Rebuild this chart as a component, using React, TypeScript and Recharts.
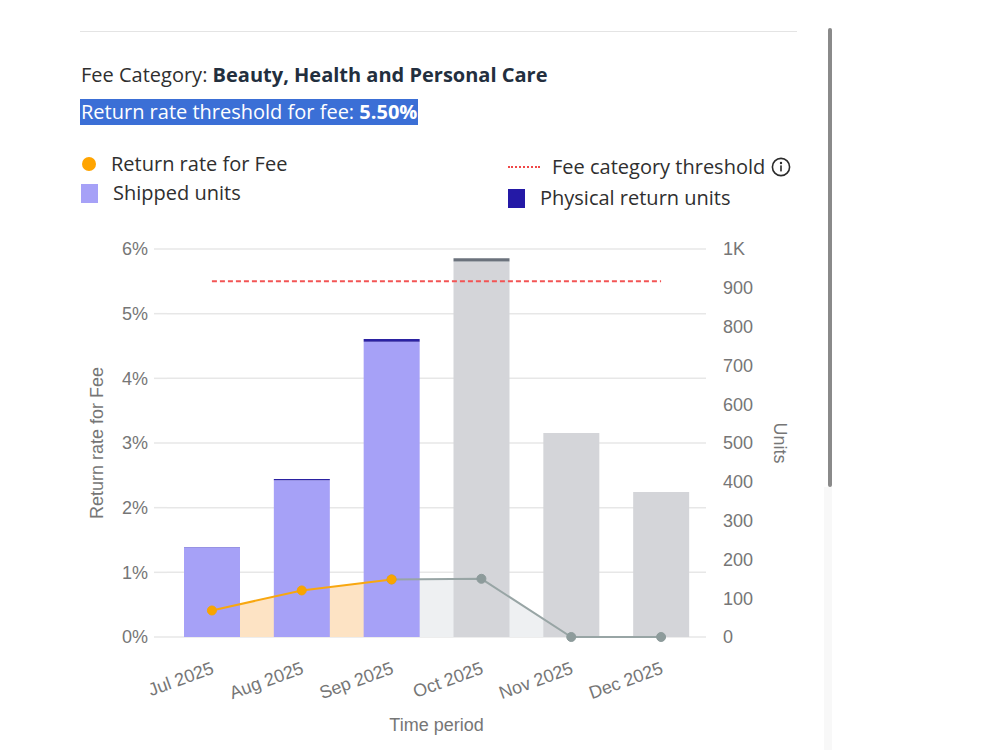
import React from "react";
import {
  ComposedChart,
  Bar,
  Line,
  Area,
  XAxis,
  YAxis,
  CartesianGrid,
  ReferenceLine,
  Cell,
} from "recharts";

const months = ["Jul 2025", "Aug 2025", "Sep 2025", "Oct 2025", "Nov 2025", "Dec 2025"];
const shippedUnits = [231, 404, 761, 968, 526, 374];
const physicalReturnUnits = [1, 3, 7, 8, 0, 0];
const actualReturnRate = [0.41, 0.72, 0.89, null, null, null];
const projectedReturnRate = [null, null, 0.89, 0.9, 0, 0];
const isProjected = [false, false, false, true, true, true];
const rateTicks = [0, 1, 2, 3, 4, 5, 6];
const unitTicks = [0, 100, 200, 300, 400, 500, 600, 700, 800, 900, 1000];
const feeThreshold = 5.5;

const data = months.map((month, i) => ({
  month,
  shipped: shippedUnits[i],
  returns: physicalReturnUnits[i],
  actual: actualReturnRate[i],
  projected: projectedReturnRate[i],
}));

const AXIS_FONT = "'Liberation Sans', Arial, sans-serif";
const UI_FONT = "'Open Sans', 'Noto Sans', sans-serif";
const AXIS_GRAY = "#767676";
const GRID = "#e7e7e7";

const MonthTick = (props: any) => {
  const { x, payload } = props;
  const ax = x + 3;
  const ay = 673;
  return (
    <text
      x={ax}
      y={ay}
      textAnchor="end"
      transform={`rotate(-20, ${ax}, ${ay})`}
      fill={AXIS_GRAY}
      fontSize={18}
      fontFamily={AXIS_FONT}
    >
      {payload.value}
    </text>
  );
};

const InfoIcon = () => (
  <svg width="20" height="20" viewBox="0 0 20 20">
    <circle cx="10" cy="10" r="8.6" fill="none" stroke="#2b2b2b" strokeWidth="1.6" />
    <circle cx="10" cy="6" r="1.2" fill="#2b2b2b" />
    <rect x="9.2" y="8.4" width="1.6" height="6" fill="#2b2b2b" />
  </svg>
);

const textRow = (left: number, centerY: number, size = 20): React.CSSProperties => ({
  position: "absolute",
  left,
  top: centerY - 13,
  height: 26,
  lineHeight: "26px",
  fontSize: size,
  fontFamily: UI_FONT,
  color: "#2f2f2f",
  whiteSpace: "nowrap",
});

export default function App() {
  return (
    <div
      style={{
        position: "absolute",
        left: 0,
        top: 0,
        width: 1000,
        height: 750,
        background: "#ffffff",
        overflow: "hidden",
      }}
    >
      <ComposedChart
        width={1000}
        height={750}
        data={data}
        margin={{ top: 249, right: 224, bottom: 63, left: 107 }}
        style={{ position: "absolute", left: 0, top: 0 }}
      >
        <CartesianGrid yAxisId="rate" vertical={false} stroke={GRID} strokeWidth={1.5} />
        <XAxis
          dataKey="month"
          height={50}
          axisLine={false}
          tickLine={false}
          interval={0}
          tick={<MonthTick />}
          label={{
            value: "Time period",
            position: "bottom",
            offset: 31,
            fill: AXIS_GRAY,
            fontSize: 18,
            fontFamily: AXIS_FONT,
          }}
        />
        <YAxis
          yAxisId="rate"
          orientation="left"
          width={60}
          domain={[0, 6]}
          ticks={rateTicks}
          tickFormatter={(v: number) => `${v}%`}
          axisLine={false}
          tickLine={{ stroke: GRID, strokeWidth: 1.5 }}
          tickSize={13}
          tickMargin={6}
          tick={{ fill: AXIS_GRAY, fontSize: 18, fontFamily: AXIS_FONT }}
          label={{
            value: "Return rate for Fee",
            angle: -90,
            position: "left",
            offset: 10,
            fill: AXIS_GRAY,
            fontSize: 18,
            fontFamily: AXIS_FONT,
            style: { textAnchor: "middle" },
          }}
        />
        <YAxis
          yAxisId="units"
          orientation="right"
          width={70}
          domain={[0, 1000]}
          ticks={unitTicks}
          tickFormatter={(v: number) => (v === 1000 ? "1K" : String(v))}
          axisLine={false}
          tickLine={false}
          tickMargin={11}
          tick={{ fill: AXIS_GRAY, fontSize: 18, fontFamily: AXIS_FONT, textAnchor: "start" }}
          label={{
            value: "Units",
            angle: 90,
            position: "right",
            offset: 4,
            fill: AXIS_GRAY,
            fontSize: 18,
            fontFamily: AXIS_FONT,
            style: { textAnchor: "middle" },
          }}
        />

        {/* shaded area under the return-rate line */}
        <Area
          yAxisId="rate"
          type="linear"
          dataKey="actual"
          stroke="none"
          fill="#fde3c4"
          fillOpacity={1}
          dot={false}
          activeDot={false}
          isAnimationActive={false}
        />
        <Area
          yAxisId="rate"
          type="linear"
          dataKey="projected"
          stroke="none"
          fill="#eef0f2"
          fillOpacity={1}
          dot={false}
          activeDot={false}
          isAnimationActive={false}
        />

        <Bar yAxisId="units" dataKey="shipped" stackId="units" barSize={56} isAnimationActive={false}>
          {data.map((d, i) => (
            <Cell key={d.month} fill={isProjected[i] ? "#d4d5d9" : "#a6a1f7"} />
          ))}
        </Bar>
        <Bar yAxisId="units" dataKey="returns" stackId="units" barSize={56} isAnimationActive={false}>
          {data.map((d, i) => (
            <Cell key={d.month} fill={isProjected[i] ? "#6b727c" : "#2b22a2"} />
          ))}
        </Bar>

        <Line
          yAxisId="rate"
          type="linear"
          dataKey="projected"
          stroke="#98a5a5"
          strokeWidth={2}
          dot={{ r: 4.5, fill: "#8d9b9b", stroke: "#8d9b9b", strokeWidth: 1 }}
          activeDot={false}
          isAnimationActive={false}
        />
        <Line
          yAxisId="rate"
          type="linear"
          dataKey="actual"
          stroke="#f8a710"
          strokeWidth={2}
          dot={{ r: 4.5, fill: "#f9a400", stroke: "#f9a400", strokeWidth: 1 }}
          activeDot={false}
          isAnimationActive={false}
        />

        <ReferenceLine
          yAxisId="rate"
          segment={[
            { x: months[0], y: feeThreshold },
            { x: months[months.length - 1], y: feeThreshold },
          ]}
          stroke="#f25454"
          strokeWidth={2}
          strokeDasharray="5 3"
        />
      </ComposedChart>

      {/* page chrome */}
      <div style={{ position: "absolute", left: 80, top: 31, width: 717, height: 1, background: "#e4e4e4" }} />
      <div style={{ position: "absolute", left: 828, top: 28, width: 4, height: 459, background: "#8a8a8a", borderRadius: 2 }} />
      <div style={{ position: "absolute", left: 824, top: 487, width: 8, height: 263, background: "#f8f8f8" }} />

      {/* header */}
      <div style={textRow(81, 75)}>
        Fee Category: <b style={{ color: "#232f3e" }}>Beauty, Health and Personal Care</b>
      </div>
      <div
        style={{
          ...textRow(80, 112),
          background: "#3b6fd6",
          color: "#ffffff",
          padding: "0 1px",
        }}
      >
        Return rate threshold for fee: <b>5.50%</b>
      </div>

      {/* legend */}
      <div
        style={{
          position: "absolute",
          left: 82,
          top: 157,
          width: 14,
          height: 14,
          borderRadius: 7,
          background: "#ffa400",
        }}
      />
      <div style={textRow(111, 164)}>Return rate for Fee</div>
      <div style={{ position: "absolute", left: 81, top: 184, width: 17, height: 19, background: "#a6a1f7" }} />
      <div style={textRow(113, 193)}>Shipped units</div>

      <div
        style={{
          position: "absolute",
          left: 508,
          top: 166,
          width: 32,
          height: 0,
          borderTop: "2px dotted #f04848",
        }}
      />
      <div style={{ ...textRow(552, 167), display: "flex", alignItems: "center", gap: 6 }}>
        Fee category threshold
        <InfoIcon />
      </div>
      <div style={{ position: "absolute", left: 508, top: 189, width: 17, height: 19, background: "#2419a6" }} />
      <div style={textRow(540, 198)}>Physical return units</div>
    </div>
  );
}
